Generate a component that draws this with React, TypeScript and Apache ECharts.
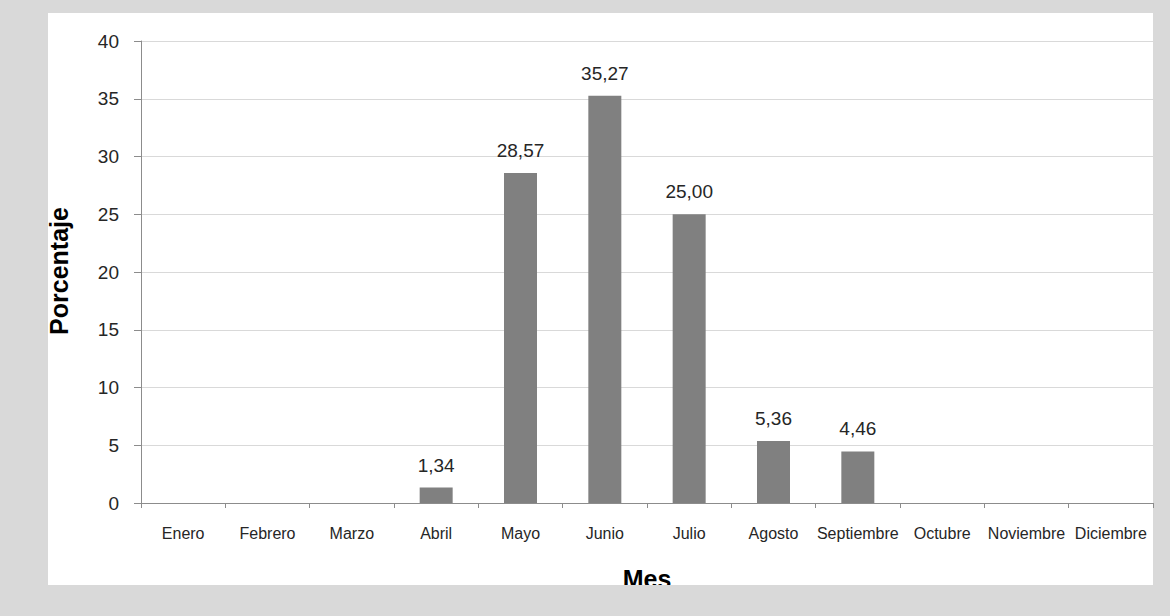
import React, { useEffect, useRef } from "react";
import * as echarts from "echarts";

const months = ["Enero", "Febrero", "Marzo", "Abril", "Mayo", "Junio", "Julio", "Agosto", "Septiembre", "Octubre", "Noviembre", "Diciembre"];
const percentages = [0, 0, 0, 1.34, 28.57, 35.27, 25.0, 5.36, 4.46, 0, 0, 0];
const yMin = 0;
const yMax = 40;
const yStep = 5;

const FONT = "'Liberation Sans', Arial, sans-serif";

export default function App() {
  const ref = useRef<HTMLDivElement>(null);
  useEffect(() => {
    if (!ref.current) return;
    const chart = echarts.init(ref.current, null, { renderer: "svg" });
    chart.setOption({
      animation: false,
      backgroundColor: "#d9d9d9",
      graphic: [
        {
          type: "rect",
          z: -10,
          silent: true,
          shape: { x: 48, y: 13, width: 1105, height: 572 },
          style: { fill: "#ffffff" },
        },
        {
          type: "text",
          z: 50,
          x: 647,
          y: 579,
          style: {
            text: "Mes",
            font: `bold 25px ${FONT}`,
            fill: "#000",
            align: "center",
            verticalAlign: "middle",
          },
        },
        {
          type: "rect",
          z: 100,
          silent: true,
          shape: { x: 0, y: 585, width: 1170, height: 31 },
          style: { fill: "#d9d9d9" },
        },
        {
          type: "text",
          z: 50,
          x: 59,
          y: 271,
          rotation: Math.PI / 2,
          style: {
            text: "Porcentaje",
            font: `bold 25px ${FONT}`,
            fill: "#000",
            align: "center",
            verticalAlign: "middle",
          },
        },
      ],
      grid: { left: 141, right: 17, top: 41, bottom: 113, containLabel: false },
      xAxis: {
        type: "category",
        data: months,
        axisLine: { show: true, lineStyle: { color: "#8c8c8c", width: 1 } },
        axisTick: { show: true, alignWithLabel: false, length: 5, lineStyle: { color: "#8c8c8c" } },
        axisLabel: { color: "#262626", fontFamily: FONT, fontSize: 16, margin: 22, interval: 0 },
      },
      yAxis: {
        type: "value",
        min: yMin,
        max: yMax,
        interval: yStep,
        axisLine: { show: true, lineStyle: { color: "#8c8c8c", width: 1 } },
        axisTick: { show: true, length: 7, lineStyle: { color: "#8c8c8c" } },
        axisLabel: { color: "#262626", fontFamily: FONT, fontSize: 19, margin: 22 },
        splitLine: { show: true, lineStyle: { color: "#d9d9d9", width: 1 } },
      },
      series: [
        {
          type: "bar",
          data: percentages,
          barWidth: 33,
          itemStyle: { color: "#808080" },
          label: {
            show: true,
            position: "top",
            distance: 13,
            color: "#262626",
            fontFamily: FONT,
            fontSize: 19,
            formatter: (p: any) => (p.value ? Number(p.value).toFixed(2).replace(".", ",") : ""),
          },
        },
      ],
    });
    return () => chart.dispose();
  }, []);
  return <div ref={ref} style={{ position: "absolute", left: 0, top: 0, width: 1170, height: 616 }} />;
}
